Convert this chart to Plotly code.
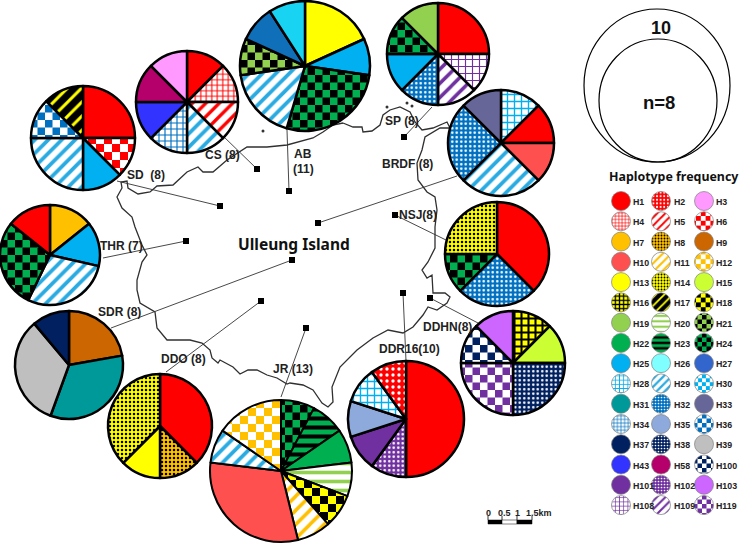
import plotly.graph_objects as go

# ---- data -------------------------------------------------------------
site_names = ["AB", "CS", "SD", "SP", "BRDF", "NSJ", "THR", "SDR", "DDO", "JR", "DDR16", "DDHN"]
AB_hap = ["H13", "H25", "H24", "H29", "H21", "H27b", "H26b"]
AB_val = [2, 1, 3, 2, 1, 1, 1]
CS_hap = ["H1", "H4", "H5", "H29", "H34", "H43", "H58", "H3"]
CS_val = [1, 1, 1, 1, 1, 1, 1, 1]
SD_hap = ["H1", "H6", "H25", "H29", "H36", "H17"]
SD_val = [2, 1, 1, 2, 1, 1]
SP_hap = ["H1", "H108", "H109", "H32", "H25", "H24", "H19"]
SP_val = [2, 1, 1, 1, 1, 1, 1]
BRDF_hap = ["H28", "H1", "H10", "H29", "H32", "H33"]
BRDF_val = [1, 1, 1, 2, 2, 1]
NSJ_hap = ["H1", "H32", "H24", "H14"]
NSJ_val = [3, 2, 1, 2]
THR_hap = ["H7", "H25", "H29", "H24", "H1"]
THR_val = [1, 1, 2, 2, 1]
SDR_hap = ["H9", "H31", "H39", "H37"]
SDR_val = [2, 3, 3, 1]
DDO_hap = ["H1", "H8", "H13", "H14"]
DDO_val = [3, 1, 1, 3]
JR_hap = ["H24", "H23", "H22", "H20", "H18", "H11", "H10", "H29", "H12"]
JR_val = [1, 1, 1, 1, 1, 1, 4, 1, 2]
DDR16_hap = ["H1", "H102", "H101", "H35", "H28", "H2"]
DDR16_val = [5, 1, 1, 1, 1, 1]
DDHN_hap = ["H16", "H15", "H38", "H119", "H100", "H103"]
DDHN_val = [1, 1, 2, 2, 1, 1]

legend_rows = [["H1", "H2", "H3"], ["H4", "H5", "H6"], ["H7", "H8", "H9"], ["H10", "H11", "H12"],
               ["H13", "H14", "H15"], ["H16", "H17", "H18"], ["H19", "H20", "H21"], ["H22", "H23", "H24"],
               ["H25", "H26", "H27"], ["H28", "H29", "H30"], ["H31", "H32", "H33"], ["H34", "H35", "H36"],
               ["H37", "H38", "H39"], ["H43", "H58", "H100"], ["H101", "H102", "H103"], ["H108", "H109", "H119"]]

coast_x = [343,353,362,363,372,380,383,390,400,410,415,422,433,440,447,450,440,425,422,417,418,427,435,437,435,435,428,422,427,432,433,433,445,450,447,437,428,423,413,403,388,373,357,340,332,333,328,322,313,303,290,287,277,267,257,248,240,233,220,218,212,210,202,190,167,157,155,140,137,137,142,147,142,135,132,122,117,122,121,127,128,138,150,157,173,187,198,203,213,227,247,267,287,313,323,333,343]
coast_y = [123,127,127,132,131,125,115,110,107,112,122,130,128,125,122,128,128,137,150,163,180,192,197,210,227,248,262,270,278,275,287,293,293,297,303,310,307,315,327,333,330,338,350,367,387,402,407,403,390,385,383,384,378,375,370,370,374,367,360,363,358,350,343,340,340,328,312,303,290,280,262,255,245,227,217,208,197,188,182,181,188,194,192,186,185,172,167,172,172,160,147,147,145,138,132,125,123]
islet_x = [263, 387, 407, 412]
islet_y = [131, 107, 103, 106]

# ---- layout of marks (pixel space) --------------------------------------
pie_pos = {"AB": (305, 66, 65), "CS": (187, 102, 51), "SD": (83, 138, 52), "SP": (438, 54, 51),
           "BRDF": (501, 143, 53), "NSJ": (497, 254, 52), "THR": (50, 255, 50), "SDR": (69, 365, 54),
           "DDO": (160, 426, 52), "JR": (281, 471, 71), "DDR16": (406, 419, 58), "DDHN": (513, 363, 52)}
site_pos = {"AB": (289, 191), "CS": (257, 169), "SD": (220, 206), "SP": (404, 137), "BRDF": (318, 223),
            "NSJ": (395, 215), "THR": (186, 241), "SDR": (292, 260), "DDO": (261, 301), "JR": (306, 328),
            "DDR16": (403, 293), "DDHN": (430, 298)}
leader_end = {"AB": (287, 130), "CS": (222, 135), "SD": (117, 181), "SP": (432, 107), "BRDF": (457, 176),
              "NSJ": (446, 240), "THR": (103, 258), "SDR": (111, 328), "DDO": (166, 372), "JR": (281, 397),
              "DDR16": (406, 361), "DDHN": (478, 323)}
site_labels = [("CS (8)", 222, 155), ("AB", 303, 154), ("(11)", 303, 169), ("SD  (8)", 146, 175),
               ("THR (7)", 121, 246), ("SDR (8)", 119, 312), ("DDO (8)", 183, 359), ("JR (13)", 293, 369),
               ("DDR16(10)", 409, 349), ("DDHN(8)", 447, 327), ("NSJ(8)", 418, 215), ("BRDF (8)", 407, 164),
               ("SP (8)", 402, 121)]

R, W, K = "#FF0000", "#FFFFFF", "#000000"
# name: (background, foreground, shape, size, solidity)
S = {
 "H1": (R, R, "", 8, .3), "H2": (R, W, ".", 6, .25), "H3": ("#FF99FF", W, "", 8, .3),
 "H4": (W, R, "+", 5.5, .35), "H5": (W, R, "/", 9.5, .35), "H6": (W, R, ".", 16, .55),
 "H7": ("#FFC000", W, "", 8, .3), "H8": ("#FFC000", K, ".", 4, .3), "H9": ("#CC6600", W, "", 8, .3),
 "H10": ("#FF5050", W, "", 8, .3), "H11": (W, "#FFC000", "/", 10, .35), "H12": (W, "#FFC000", ".", 16, .55),
 "H13": ("#FFFF00", W, "", 8, .3), "H14": ("#FFFF00", K, ".", 4, .3), "H15": ("#CCFF33", W, "", 8, .3),
 "H16": ("#FFFF00", K, "+", 7, .5), "H17": (K, "#FFFF00", "/", 10, .3), "H18": ("#FFFF00", K, ".", 16, .55),
 "H19": ("#92D050", W, "", 8, .3), "H20": (W, "#92D050", "-", 9, .4), "H21": ("#92D050", K, ".", 15, .55),
 "H22": ("#00B050", W, "", 8, .3), "H23": ("#00B050", K, "-", 9, .45), "H24": ("#00B050", K, ".", 15, .55),
 "H25": ("#00B0F0", W, "", 8, .3), "H26": ("#7FFFFF", W, "", 8, .3), "H26b": ("#19D3F3", W, "", 8, .3),
 "H27": ("#3366CC", W, "", 8, .3), "H27b": ("#0F6FB8", W, "", 8, .3),
 "H28": (W, "#00B0F0", "+", 7, .35), "H29": (W, "#29ABE2", "/", 9.5, .4), "H30": (W, "#00B0F0", ".", 13, .55),
 "H31": ("#009999", W, "", 8, .3), "H32": ("#0070C0", W, ".", 4.5, .25), "H33": ("#666699", W, "", 8, .3),
 "H34": (W, "#0070C0", "+", 6, .35), "H35": ("#8EA9DB", W, "", 8, .3), "H36": (W, "#0070C0", ".", 15, .55),
 "H37": ("#002060", W, "", 8, .3), "H38": ("#002060", W, ".", 4.5, .25), "H39": ("#BFBFBF", W, "", 8, .3),
 "H43": ("#3333FF", W, "", 8, .3), "H58": ("#B5006C", W, "", 8, .3), "H100": (W, "#002060", ".", 15, .55),
 "H101": ("#7030A0", W, "", 8, .3), "H102": ("#7030A0", W, ".", 4.5, .25), "H103": ("#CC66FF", W, "", 8, .3),
 "H108": (W, "#7030A0", "+", 7, .3), "H109": (W, "#7030A0", "/", 10, .35), "H119": (W, "#7030A0", ".", 15, .55),
}

W_PX, H_PX = 740, 547
fig = go.Figure()


def add_pie(values, haps, cx, cy, r, lw, lc="black", scale=1.0):
    st = [S[h] for h in haps]
    fig.add_trace(go.Pie(
        values=values, labels=haps, sort=False, direction="clockwise", rotation=0,
        textinfo="none", hoverinfo="label+value", showlegend=False,
        domain=dict(x=[(cx - r) / W_PX, (cx + r) / W_PX], y=[1 - (cy + r) / H_PX, 1 - (cy - r) / H_PX]),
        marker=dict(colors=[s[0] for s in st], line=dict(color=lc, width=lw),
                    pattern=dict(shape=[s[2] for s in st], bgcolor=[s[0] for s in st],
                                 fgcolor=[s[1] for s in st], size=[max(s[3] * scale, 3) for s in st],
                                 solidity=[s[4] for s in st], fillmode="replace"))))


fig.add_trace(go.Scatter(x=coast_x, y=coast_y, mode="lines", line=dict(color="#303030", width=1.3), hoverinfo="skip"))
fig.add_trace(go.Scatter(x=islet_x, y=islet_y, mode="markers", hoverinfo="skip",
                         marker=dict(color="#333333", size=3)))
for n in site_names:
    fig.add_trace(go.Scatter(x=[site_pos[n][0], leader_end[n][0]], y=[site_pos[n][1], leader_end[n][1]],
                             mode="lines", line=dict(color="#333333", width=0.9), hoverinfo="skip"))
fig.add_trace(go.Scatter(x=[site_pos[n][0] for n in site_names], y=[site_pos[n][1] for n in site_names],
                         mode="markers", marker=dict(color="black", symbol="square", size=6), hoverinfo="skip"))

site_data = {"AB": (AB_val, AB_hap), "CS": (CS_val, CS_hap), "SD": (SD_val, SD_hap), "SP": (SP_val, SP_hap),
             "BRDF": (BRDF_val, BRDF_hap), "NSJ": (NSJ_val, NSJ_hap), "THR": (THR_val, THR_hap),
             "SDR": (SDR_val, SDR_hap), "DDO": (DDO_val, DDO_hap), "JR": (JR_val, JR_hap),
             "DDR16": (DDR16_val, DDR16_hap), "DDHN": (DDHN_val, DDHN_hap)}
for n in site_names:
    v, h = site_data[n]
    cx, cy, r = pie_pos[n]
    add_pie(v, h, cx, cy, r, 2.5 if n != "JR" else 2)

col_x = [621, 661, 704]
lab_x = [631, 672, 714]
ann = []
for i, row in enumerate(legend_rows):
    y = 201 + 20.27 * i
    for j, h in enumerate(row):
        add_pie([1], [h], col_x[j], y, 9.5, 0.7, lc="#7F7F7F", scale=0.6)
        ann.append(dict(text=h, x=lab_x[j], y=y + 1, xanchor="left", yanchor="middle", showarrow=False,
                        font=dict(family="Liberation Sans", size=8.8, color="#222222", weight="bold")))

for t, x, y in site_labels:
    ann.append(dict(text=t, x=x, y=y, xanchor="center", yanchor="middle", showarrow=False,
                    font=dict(family="Liberation Sans", size=12, color="#222222", weight="bold")))
ann += [dict(text="Ulleung Island", x=294, y=244, showarrow=False,
             font=dict(family="Noto Sans", size=15.5, color="#111111", weight="bold")),
        dict(text="Haplotype frequency", x=674, y=176, showarrow=False,
             font=dict(family="Noto Sans", size=12.4, color="#111111", weight="bold")),
        dict(text="10", x=661, y=28, showarrow=False,
             font=dict(family="Liberation Sans", size=18, color="#111111", weight="bold")),
        dict(text="n=8", x=659, y=102, showarrow=False,
             font=dict(family="Liberation Sans", size=18.5, color="#111111", weight="bold"))]
for t, x in [("0", 488), ("0.5", 504), ("1", 517), ("1.5km", 539)]:
    ann.append(dict(text=t, x=x, y=513, showarrow=False,
                    font=dict(family="Liberation Sans", size=9, color="#222222", weight="bold")))

shapes = [
    dict(type="circle", x0=584, x1=730, y0=9, y1=162, line=dict(color="black", width=1.2)),
    dict(type="circle", x0=599, x1=717, y0=39, y1=162, line=dict(color="black", width=1.2)),
    dict(type="rect", x0=488, x1=502, y0=520, y1=524, fillcolor="black", line=dict(color="black", width=0.5)),
    dict(type="rect", x0=502, x1=517, y0=520, y1=524, fillcolor="white", line=dict(color="black", width=0.5)),
    dict(type="rect", x0=517, x1=532, y0=520, y1=524, fillcolor="black", line=dict(color="black", width=0.5)),
]
for x in (488, 502, 517, 532):
    shapes.append(dict(type="line", x0=x, x1=x, y0=516, y1=520, line=dict(color="black", width=0.8)))

fig.update_layout(
    width=W_PX, height=H_PX, margin=dict(l=0, r=0, t=0, b=0), showlegend=False,
    paper_bgcolor="white", plot_bgcolor="white", annotations=ann, shapes=shapes,
    xaxis=dict(range=[0, W_PX], visible=False, fixedrange=True),
    yaxis=dict(range=[H_PX, 0], visible=False, fixedrange=True))

# page margin off; large dot tiles become checker tiles
post = """
document.body.style.margin='0';
document.documentElement.style.overflow='hidden';
document.querySelectorAll('pattern').forEach(function(p){
  var c=p.querySelector('circle'); if(!c) return;
  var s=parseFloat(p.getAttribute('width')); if(s<7) return;
  var fill=c.style.fill||c.getAttribute('fill');
  [[0,0],[s/2,s/2]].forEach(function(o){
    var r=document.createElementNS('http://www.w3.org/2000/svg','rect');
    r.setAttribute('x',o[0]);r.setAttribute('y',o[1]);
    r.setAttribute('width',s/2);r.setAttribute('height',s/2);
    r.style.fill=fill; p.appendChild(r);
  });
  c.remove();
});
"""
fig.write_html("out.html", config={"displayModeBar": False}, post_script=post)
